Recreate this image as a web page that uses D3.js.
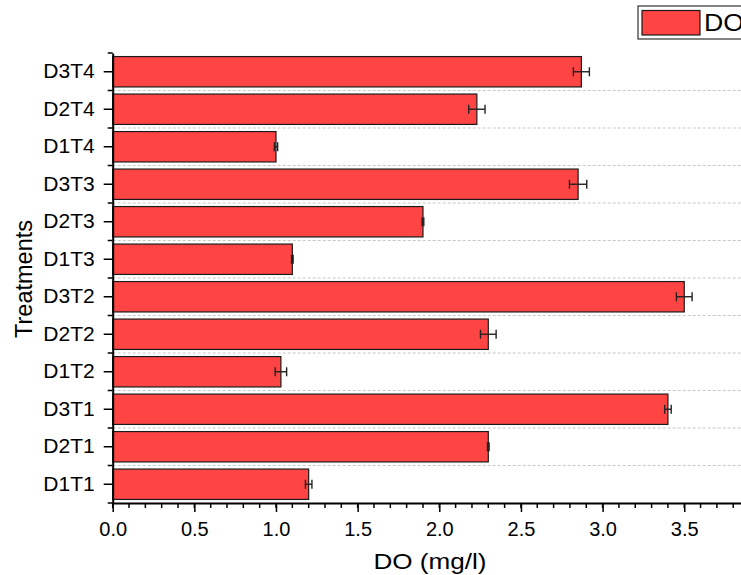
<!DOCTYPE html>
<html>
<head>
<meta charset="utf-8">
<script src="https://cdn.jsdelivr.net/npm/d3@7"></script>
<style>
  html, body { margin: 0; padding: 0; background: #fff; }
  svg { display: block; font-family: "Liberation Sans", Arial, sans-serif; }
</style>
</head>
<body>
<svg id="chart" width="741" height="575"></svg>
<script>
const categories = ["D1T1","D2T1","D3T1","D1T2","D2T2","D3T2","D1T3","D2T3","D3T3","D1T4","D2T4","D3T4"];
const doValues   = [1.20, 2.30, 3.40, 1.03, 2.30, 3.50, 1.10, 1.90, 2.85, 1.00, 2.23, 2.87];
const doErrors   = [0.02, 0.005, 0.02, 0.035, 0.048, 0.048, 0.005, 0.005, 0.053, 0.01, 0.05, 0.049];
const xTicks     = [0, 0.5, 1.0, 1.5, 2.0, 2.5, 3.0, 3.5];
const xMinorTicks = d3.range(0, 39).map(i => i / 10);
const seriesName = "DO";
const xTitle = "DO (mg/l)";
const yTitle = "Treatments";

(function () {
const svg = d3.select("#chart");
const mLeft = 112.7, mTop = 53, mBottom = 503;
const pxPerUnit = 163.3;
const xMax = 3.9;

const x = d3.scaleLinear().domain([0, xMax]).range([mLeft, mLeft + pxPerUnit * xMax]);
const y = d3.scaleBand()
  .domain(categories.slice().reverse())
  .range([mTop, mBottom])
  .paddingInner(0.19)
  .paddingOuter(0.095);
const step = y.step();
const fill = "#ff4444";

// gridlines at band boundaries (between bands)
const bounds = categories.slice().reverse().map(c => y(c) - y.paddingInner() * step / 2).slice(1);
svg.append("g").selectAll("line").data(bounds).join("line")
  .attr("x1", mLeft).attr("x2", 741)
  .attr("y1", d => d).attr("y2", d => d)
  .attr("stroke", "#c8c8c8").attr("stroke-width", 1.2)
  .attr("stroke-dasharray", "3,2");

// bars
const data = categories.map((c, i) => ({c, v: doValues[i], e: doErrors[i]}));
svg.append("g").selectAll("rect").data(data).join("rect")
  .attr("x", x(0))
  .attr("y", d => y(d.c))
  .attr("width", d => x(d.v) - x(0))
  .attr("height", y.bandwidth())
  .attr("fill", fill)
  .attr("stroke", "#1a1a1a")
  .attr("stroke-width", 1.2);

// error bars
const eb = svg.append("g").attr("stroke", "#222").attr("stroke-width", 1.4);
data.forEach(d => {
  const cy = y(d.c) + y.bandwidth() / 2;
  eb.append("line").attr("x1", x(d.v - d.e)).attr("x2", x(d.v + d.e)).attr("y1", cy).attr("y2", cy);
  eb.append("line").attr("x1", x(d.v - d.e)).attr("x2", x(d.v - d.e)).attr("y1", cy - 4.5).attr("y2", cy + 4.5);
  eb.append("line").attr("x1", x(d.v + d.e)).attr("x2", x(d.v + d.e)).attr("y1", cy - 4.5).attr("y2", cy + 4.5);
});

// x axis minor ticks
svg.append("g").selectAll("line").data(xMinorTicks).join("line")
  .attr("x1", d => x(d)).attr("x2", d => x(d))
  .attr("y1", mBottom).attr("y2", mBottom + 5)
  .attr("stroke", "#000").attr("stroke-width", 1.5);

// x axis
const xAxis = svg.append("g")
  .attr("transform", `translate(0,${mBottom})`)
  .call(d3.axisBottom(x).tickValues(xTicks).tickFormat(d3.format(".1f")).tickSize(9).tickSizeOuter(0));
xAxis.select(".domain").attr("stroke-width", 2).attr("stroke", "#000");
xAxis.selectAll(".tick line").attr("stroke-width", 1.5);
xAxis.selectAll(".tick text").attr("font-size", 20).attr("dy", "1.05em").attr("fill", "#000")
  .style("font-family", "'Liberation Sans', Arial, sans-serif");

// y axis minor ticks at band boundaries
const allBounds = [mTop].concat(bounds).concat([mBottom]);
svg.append("g").selectAll("line").data(allBounds).join("line")
  .attr("x1", mLeft - 5).attr("x2", mLeft)
  .attr("y1", d => d).attr("y2", d => d)
  .attr("stroke", "#000").attr("stroke-width", 1.5);

// y axis
const yAxis = svg.append("g")
  .attr("transform", `translate(${mLeft},0)`)
  .call(d3.axisLeft(y).tickSize(9).tickSizeOuter(0).tickPadding(9));
yAxis.select(".domain").attr("stroke-width", 2).attr("stroke", "#000");
yAxis.selectAll(".tick line").attr("stroke-width", 1.5);
yAxis.selectAll(".tick text").attr("font-size", 21).attr("fill", "#000")
  .style("font-family", "'Liberation Sans', Arial, sans-serif");

// titles
svg.append("text")
  .attr("x", 373.5).attr("y", 569)
  .attr("font-size", 22.5)
  .attr("textLength", 113).attr("lengthAdjust", "spacingAndGlyphs")
  .text(xTitle);
svg.append("text")
  .attr("transform", "translate(31.5,279) rotate(-90)")
  .attr("text-anchor", "middle").attr("font-size", 23.5)
  .text(yTitle);

// legend
const lg = svg.append("g");
lg.append("rect").attr("x", 638).attr("y", 6).attr("width", 130).attr("height", 33)
  .attr("fill", "#fff").attr("stroke", "#333").attr("stroke-width", 1.2);
lg.append("rect").attr("x", 642).attr("y", 10.5).attr("width", 58).attr("height", 24.5)
  .attr("fill", fill).attr("stroke", "#1a1a1a").attr("stroke-width", 1.2);
lg.append("text")
  .attr("transform", "translate(704,31) scale(1.16,1)")
  .attr("font-size", 23).text(seriesName);
})();
</script>
</body>
</html>
